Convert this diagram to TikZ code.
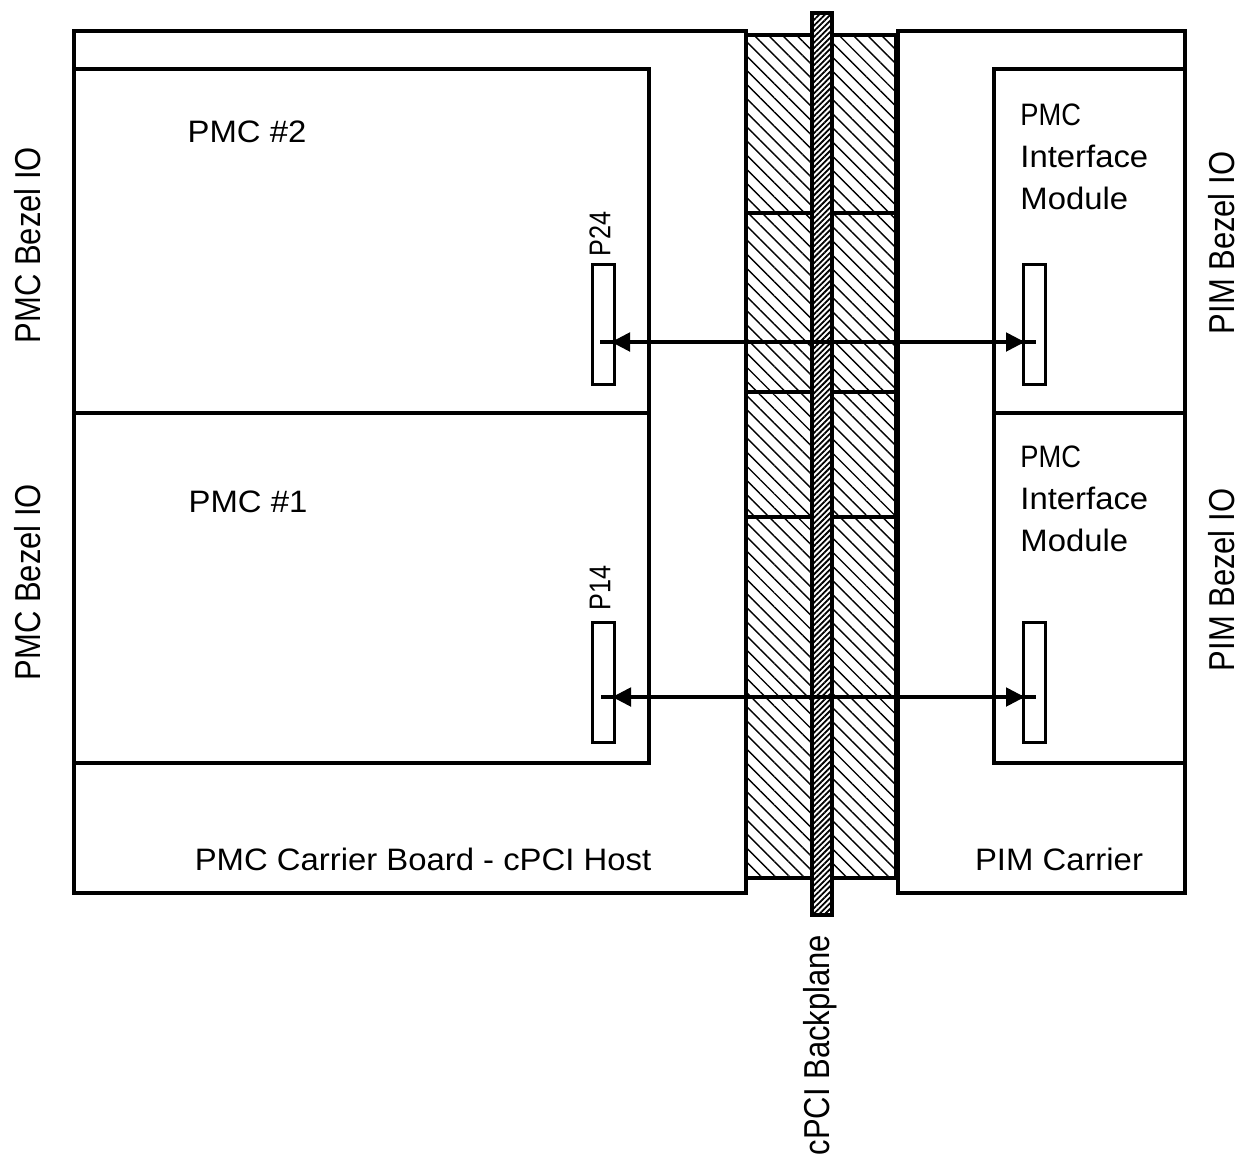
\documentclass[tikz,border=0pt]{standalone}
\usepackage{fontspec}
\setmainfont{Liberation Sans}
\newfontfamily\widefont[FakeStretch=1.06]{Liberation Sans}
\newfontfamily\pimcfont[FakeStretch=0.88]{Liberation Sans}
\newfontfamily\rotfont[FakeStretch=0.86]{Liberation Sans}
\newfontfamily\pinfont[FakeStretch=0.84]{Liberation Sans}
\usetikzlibrary{patterns.meta,arrows.meta}
\begin{document}
\begin{tikzpicture}[x=0.5pt,y=-0.5pt,
  board/.style={draw,line width=1.8pt},
  conn/.style={draw,line width=1.5pt,rectangle,inner sep=0pt,minimum width=11pt,minimum height=60pt},
  hatchblk/.style={draw,line width=1.8pt,pattern={Lines[angle=-45,distance=5pt,line width=0.7pt]}},
  bplane/.style={draw,line width=1.6pt,preaction={fill=white},pattern={Lines[angle=45,distance=2pt,line width=0.9pt]}},
  lbl/.style={inner sep=0pt,font=\widefont\fontsize{15.5pt}{21pt}\selectfont},
  rotlbl/.style={inner sep=0pt,rotate=90,font=\rotfont\fontsize{18pt}{21pt}\selectfont},
  pinlbl/.style={inner sep=0pt,rotate=90,font=\pinfont\fontsize{15pt}{18pt}\selectfont},
  arrline/.style={line width=2.4pt},
  arrtips/.style={line width=2.4pt,{Triangle[length=9.5pt,width=9pt]}-{Triangle[length=9.5pt,width=9pt]},shorten <=5.5pt,shorten >=5.5pt}
]
\useasboundingbox (0,0) rectangle (1243,1162);

% boards
\draw[board] (74,31) rectangle (746,893);
\draw[board] (74,69) rectangle (649,413);
\draw[board] (74,413) rectangle (649,763);
\draw[board] (898,31) rectangle (1185,893);
\draw[board] (994,69) rectangle (1185,413);
\draw[board] (994,413) rectangle (1185,763);

% hatched connector blocks
\foreach \ya/\yb in {35/213,213/392,392/517,517/878}{
  \draw[hatchblk] (746,\ya) rectangle (813,\yb);
  \draw[hatchblk] (831,\ya) rectangle (896,\yb);
}
% backplane
\draw[bplane] (812,13) rectangle (832,915);

% connectors
\node[conn] (P24) at (603,324.5) {};
\node[conn] (P14) at (603.5,682) {};
\node[conn] (R2) at (1034.5,324) {};
\node[conn] (R1) at (1034.5,682) {};

% arrows
\coordinate (a2l) at (600,342);
\coordinate (a2r) at (1036,342);
\coordinate (a1l) at (601,697);
\coordinate (a1r) at (1036,697);
\draw[arrline] (a2l) -- (a2r);
\draw[arrtips] (a2l) -- (a2r);
\draw[arrline] (a1l) -- (a1r);
\draw[arrtips] (a1l) -- (a1r);

% labels
\node[lbl,anchor=base] (t2) at (247,142) {PMC \#2};
\node[lbl,anchor=base] (t1) at (248,512) {PMC \#1};
\node[lbl,anchor=base] (tc) at (423,870) {PMC Carrier Board - cPCI Host};
\node[lbl,anchor=base] (tp) at (1059,870) {PIM Carrier};
\node[lbl,anchor=north west,align=left] (pim2) at (1020,103) {{\pimcfont PMC}\\Interface\\Module};
\node[lbl,anchor=north west,align=left] (pim1) at (1020,445) {{\pimcfont PMC}\\Interface\\Module};

\node[pinlbl] (lp24) at (600,234) {P24};
\node[pinlbl] (lp14) at (600,588) {P14};

\node[rotlbl] (bz2) at (28,245) {PMC Bezel IO};
\node[rotlbl] (bz1) at (28,582) {PMC Bezel IO};
\node[rotlbl] (pz2) at (1222,243) {PIM Bezel IO};
\node[rotlbl] (pz1) at (1222,580) {PIM Bezel IO};
\node[rotlbl] (bp) at (820,1045) {cPCI Backplane};
\end{tikzpicture}
\end{document}
